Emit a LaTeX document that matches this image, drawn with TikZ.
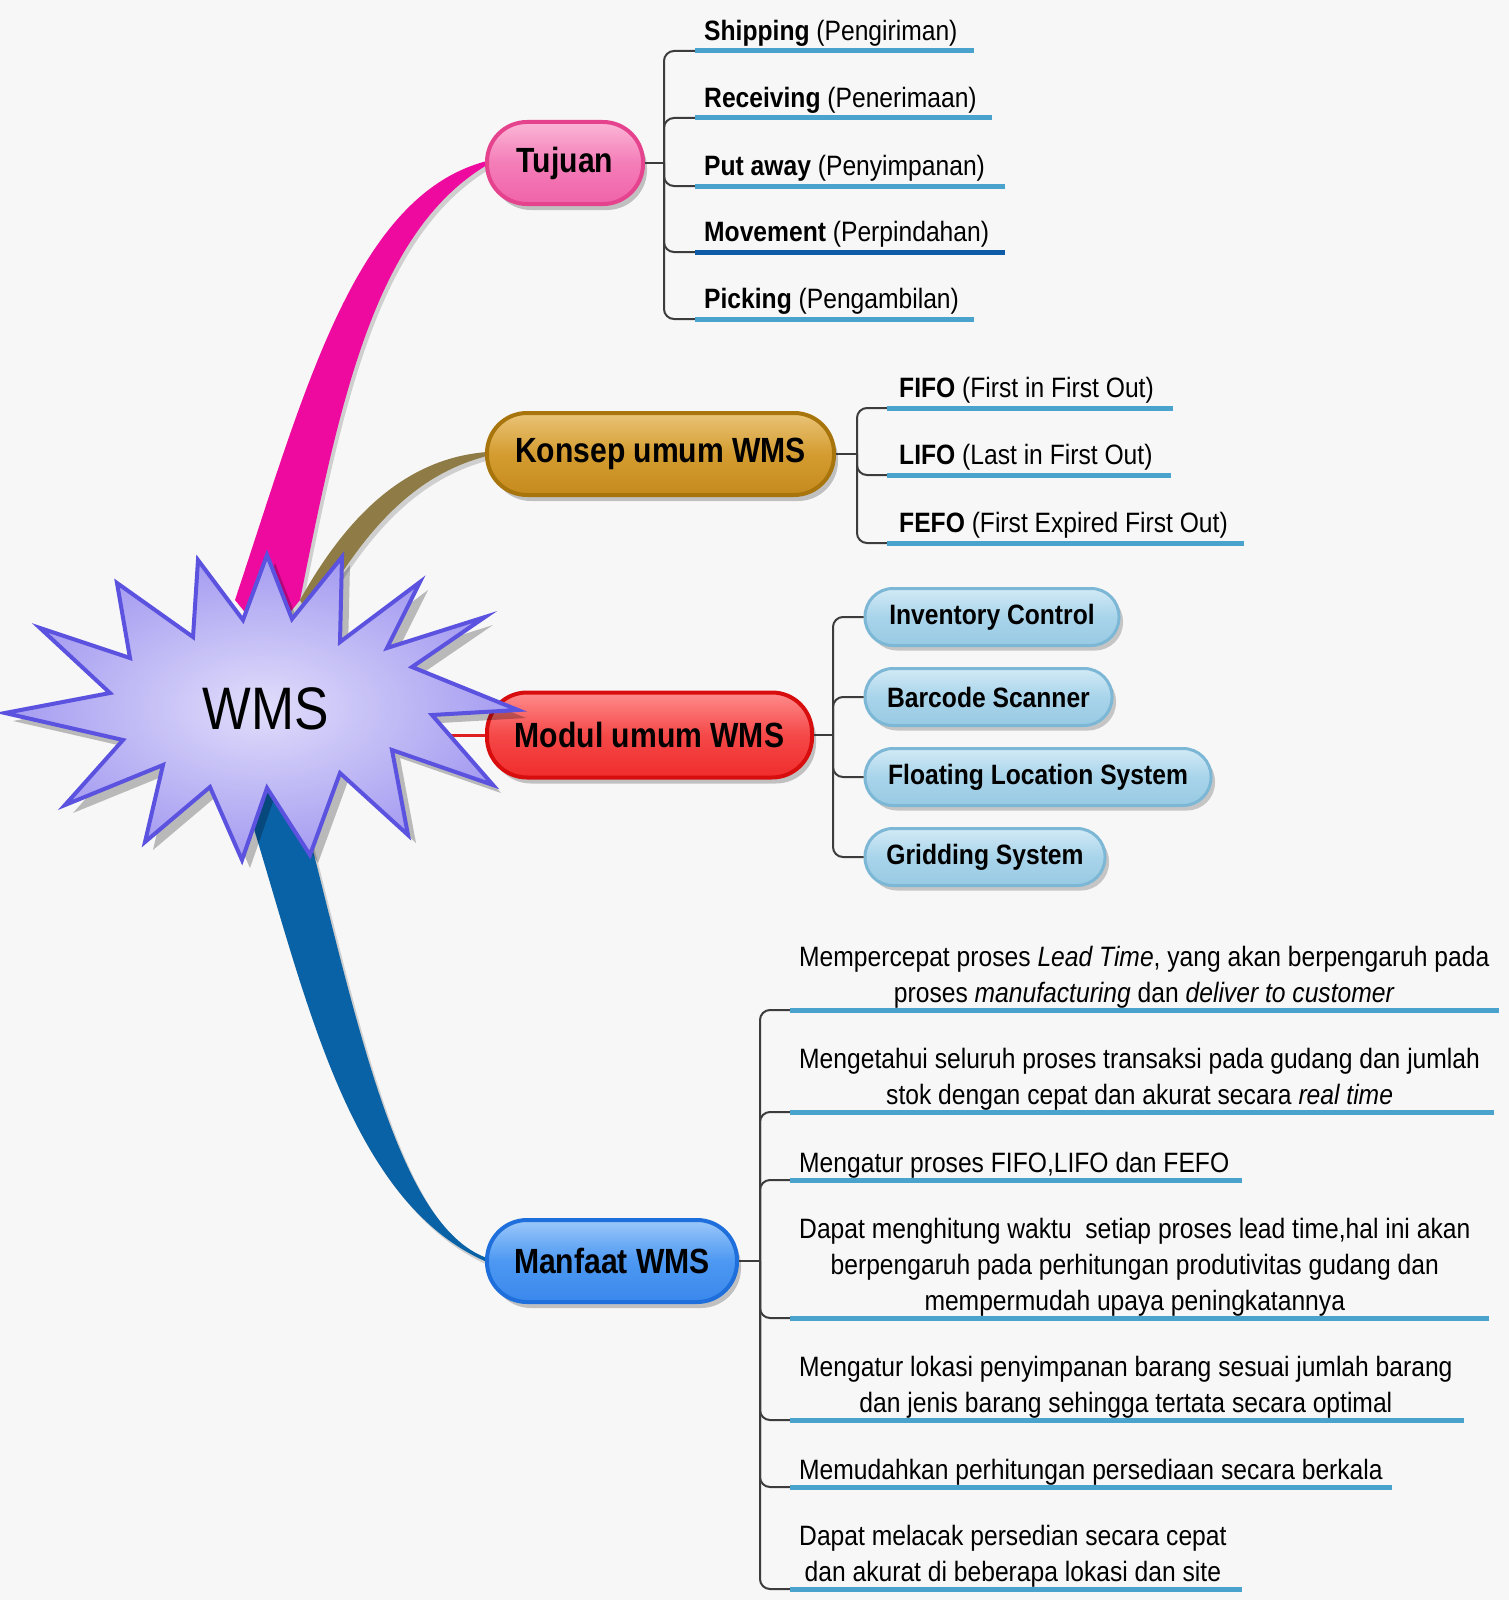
\documentclass[tikz,border=0pt]{standalone}
\usepackage{fontspec}
\setmainfont{Liberation Sans}
\newfontfamily\fnar{Liberation Sans}[FakeStretch=0.88]
\newfontfamily\fmain{Liberation Sans}[FakeStretch=0.86]
\newfontfamily\fwms{Liberation Sans}[FakeStretch=0.86]
\usetikzlibrary{shadows,calc}
\pgfdeclarelayer{back}
\pgfdeclarelayer{branchlayer}
\pgfsetlayers{back,branchlayer,main}

\definecolor{bgC}{HTML}{F7F7F7}
\definecolor{pinkB}{HTML}{E6438F}
\definecolor{pinkT}{HTML}{FBB6D6}
\definecolor{pinkM}{HTML}{F47DB8}
\definecolor{pinkD}{HTML}{F063AA}
\definecolor{goldB}{HTML}{A8740C}
\definecolor{goldT}{HTML}{EAC478}
\definecolor{goldM}{HTML}{D49C30}
\definecolor{goldD}{HTML}{C58A1E}
\definecolor{redB}{HTML}{D80E0E}
\definecolor{redT}{HTML}{FF8C8C}
\definecolor{redM}{HTML}{F54848}
\definecolor{redD}{HTML}{F02C2C}
\definecolor{blueB}{HTML}{1E6FDC}
\definecolor{blueT}{HTML}{9CC8FA}
\definecolor{blueM}{HTML}{4C98F2}
\definecolor{blueD}{HTML}{3A88EC}
\definecolor{pillB}{HTML}{7DB7D6}
\definecolor{pillT}{HTML}{D2EAF6}
\definecolor{pillM}{HTML}{A8D4EA}
\definecolor{pillD}{HTML}{98CAE3}
\definecolor{ulC}{HTML}{4AA3CD}
\definecolor{ulD}{HTML}{0E5BA8}
\definecolor{brkC}{HTML}{3C3C3C}
\definecolor{brPink}{HTML}{EE0A9E}
\definecolor{brGold}{HTML}{8F7B45}
\definecolor{brBlue}{HTML}{0A62A6}
\definecolor{brRed}{HTML}{E02020}
\definecolor{starB}{HTML}{5B52E0}
\definecolor{starI}{HTML}{E0DDFB}
\definecolor{starO}{HTML}{A49BF0}

\tikzset{
  mainbox/.style={rectangle, rounded corners=40pt, minimum height=82pt, line width=4pt,
    inner sep=0pt, font=\fmain\bfseries\fontsize{35}{40}\selectfont,
    drop shadow={shadow xshift=4pt, shadow yshift=-6pt, opacity=0.22, fill=black}},
  pinkbox/.style={draw=pinkB, top color=pinkT, bottom color=pinkD, middle color=pinkM},
  goldbox/.style={draw=goldB, top color=goldT, bottom color=goldD, middle color=goldM},
  redbox/.style={draw=redB, top color=redT, bottom color=redD, middle color=redM},
  bluebox/.style={draw=blueB, top color=blueT, bottom color=blueD, middle color=blueM},
  pill/.style={rectangle, rounded corners=28pt, minimum height=57pt, line width=3pt,
    draw=pillB, top color=pillT, bottom color=pillD, middle color=pillM, inner sep=0pt,
    font=\fnar\bfseries\fontsize{28}{34}\selectfont,
    drop shadow={shadow xshift=4pt, shadow yshift=-5pt, opacity=0.2, fill=black}},
  brk/.style={draw=brkC, line width=2pt},
  uline/.style={line width=5pt},
  itemtext/.style={font=\fnar\fontsize{28}{36}\selectfont, inner sep=0pt, anchor=base west},
  benefit/.style={font=\fnar\fontsize{28}{36}\selectfont, inner sep=0pt, anchor=south west, align=center},
  brshape/.style={drop shadow={shadow xshift=3pt, shadow yshift=-4pt, opacity=0.16, fill=black}},
  starshape/.style={draw=starB, line width=4pt, line join=miter, inner color=starI, outer color=starO,
    drop shadow={shadow xshift=8pt, shadow yshift=-8pt, opacity=0.25, fill=black}}
}

\begin{document}
\begin{tikzpicture}[x=1pt,y=-1pt]
\useasboundingbox (0,0) rectangle (1509,1600);
\begin{pgfonlayer}{back}
\fill[bgC] (0,0) rectangle (1509,1600);
\end{pgfonlayer}

% main topic boxes
\node[mainbox, pinkbox, minimum width=156pt] (tujuan) at (565,163) {Tujuan};
\node[mainbox, goldbox, minimum width=347pt] (konsep) at (660.5,454) {Konsep umum WMS};
\node[mainbox, redbox, minimum width=325pt, minimum height=85pt] (modul) at (649.5,735) {Modul umum WMS};
\node[mainbox, bluebox, minimum width=250pt] (manfaat) at (612,1261) {Manfaat WMS};

% central star
\path[starshape] (5,713) -- (110,693) -- (40,628) -- (130,658) -- (117,583) -- (193,637)
  -- (198,560) -- (243,620) -- (267,555) -- (292,619) -- (342,557) -- (340,642)
  -- (420,582) -- (387,648) -- (485,617) -- (412,667) -- (518,710) -- (432,715)
  -- (493,785) -- (392,750) -- (408,835) -- (340,773) -- (310,855) -- (267,788)
  -- (242,860) -- (210,787) -- (145,842) -- (163,765) -- (65,805) -- (123,740) -- cycle;
\node[font=\fwms\fontsize{60}{60}\selectfont, inner sep=0pt] (wms) at (266,709) {WMS};

% branches from the star
\begin{pgfonlayer}{branchlayer}
\coordinate (pinkroot) at (268,640);
\coordinate (goldroot) at (322,640);
\coordinate (blueroot) at (272,780);
\coordinate (redroot) at (420,735);
\fill[brPink, brshape] (235,600) .. controls (305,390) and (355,195) .. ($(tujuan.west)+(2,-2)$)
  -- ($(tujuan.west)+(2,2)$) .. controls (375,232) and (340,400) .. (300,600) -- (pinkroot) -- cycle;
\fill[brGold, brshape] (300,600) .. controls (350,510) and (410,458) .. ($(konsep.west)+(2,-2)$)
  -- ($(konsep.west)+(2,2)$) .. controls (425,472) and (375,515) .. (325,600) -- (goldroot) -- cycle;
\fill[brBlue, brshape] (245,800) .. controls (305,990) and (345,1200) .. ($(manfaat.west)+(2,1)$)
  -- ($(manfaat.west)+(2,-3)$) .. controls (395,1225) and (355,1010) .. (300,800) -- (blueroot) -- cycle;
\draw[brRed, line width=3pt] (redroot) -- (modul.west);
\end{pgfonlayer}

% Tujuan children
\draw[brk] (tujuan.east) -- (664,163) coordinate (tj);
\foreach \yy/\ee/\cc/\tx [count=\i] in {
  51/974/ulC/{\textbf{Shipping} (Pengiriman)},
  118/992/ulC/{\textbf{Receiving} (Penerimaan)},
  186/1005/ulC/{\textbf{Put away} (Penyimpanan)},
  252/1005/ulD/{\textbf{Movement} (Perpindahan)},
  319/974/ulC/{\textbf{Picking} (Pengambilan)}}{
  \coordinate (tu\i) at (695,\yy);
  \coordinate (tue\i) at (\ee,\yy);
  \draw[brk, rounded corners=10pt] (tj) |- (tu\i);
  \draw[uline, draw=\cc] (tu\i) -- (tue\i);
  \node[itemtext] (tut\i) at (704,\yy-10.5) {\tx};
}

% Konsep children
\draw[brk] (konsep.east) -- (857,454) coordinate (kj);
\foreach \yy/\ee/\tx [count=\i] in {
  408/1173/{\textbf{FIFO} (First in First Out)},
  475/1171/{\textbf{LIFO} (Last in First Out)},
  543/1244/{\textbf{FEFO} (First Expired First Out)}}{
  \coordinate (ku\i) at (887,\yy);
  \coordinate (kue\i) at (\ee,\yy);
  \draw[brk, rounded corners=10pt] (kj) |- (ku\i);
  \draw[uline, draw=ulC] (ku\i) -- (kue\i);
  \node[itemtext] (kut\i) at (899,\yy-11) {\tx};
}

% Modul children
\node[pill, minimum width=254pt] (inv) at (992,617) {Inventory Control};
\node[pill, minimum width=247pt] (bar) at (988.5,697) {Barcode Scanner};
\node[pill, minimum width=346pt] (flo) at (1038,777) {Floating Location System};
\node[pill, minimum width=240pt] (gri) at (985,857) {Gridding System};
\draw[brk] (modul.east) -- (833,735) coordinate (mj);
\foreach \n in {inv,bar,flo,gri}{
  \draw[brk, rounded corners=10pt] (mj) |- (\n.west);
}

% Manfaat children
\draw[brk] (manfaat.east) -- (760,1261) coordinate (fj);
\foreach \yy/\ee/\tx [count=\i] in {
  1010/1499/{Mempercepat proses \textit{Lead Time}, yang akan berpengaruh pada\\proses \textit{manufacturing} dan \textit{deliver to customer}\strut},
  1112/1494/{Mengetahui seluruh proses transaksi pada gudang dan jumlah\\stok dengan cepat dan akurat secara \textit{real time}\strut},
  1180/1242/{Mengatur proses FIFO,LIFO dan FEFO\strut},
  1318/1489/{Dapat menghitung waktu\ \ setiap proses lead time,hal ini akan\\berpengaruh pada perhitungan produtivitas gudang dan\\mempermudah upaya peningkatannya\strut},
  1420/1464/{Mengatur lokasi penyimpanan barang sesuai jumlah barang\\dan jenis barang sehingga tertata secara optimal\strut},
  1487/1392/{Memudahkan perhitungan persediaan secara berkala\strut},
  1589/1242/{Dapat melacak persedian secara cepat\\dan akurat di beberapa lokasi dan site\strut}}{
  \coordinate (fu\i) at (790,\yy);
  \coordinate (fue\i) at (\ee,\yy);
  \draw[brk, rounded corners=10pt] (fj) |- (fu\i);
  \draw[uline, draw=ulC] (fu\i) -- (fue\i);
  \node[benefit] (fut\i) at (799,\yy+3) {\tx};
}
\end{tikzpicture}
\end{document}
